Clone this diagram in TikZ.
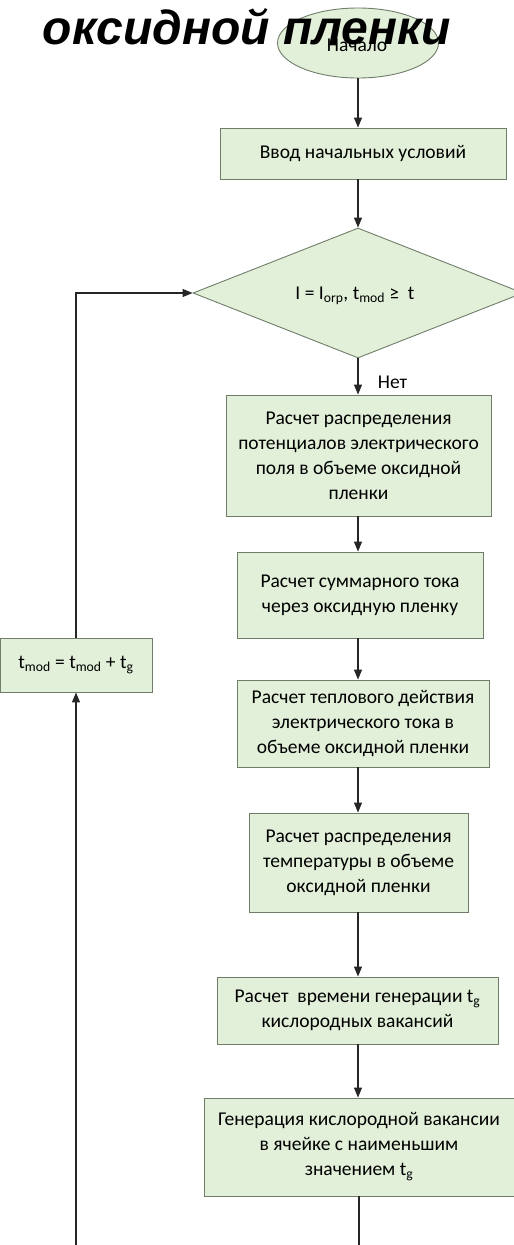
\documentclass[tikz,border=0pt]{standalone}
\usepackage{fontspec}
\setmainfont{Carlito}
\newfontfamily\titlefont{Liberation Sans}
\usetikzlibrary{arrows.meta,shapes.geometric}
\definecolor{boxfill}{HTML}{E2EFD9}
\definecolor{boxline}{HTML}{6F7D69}
\tikzset{
  blockbox/.style={draw=boxline, fill=boxfill, line width=0.9pt, align=center, inner sep=0pt},
  termbox/.style={ellipse, draw=boxline, fill=boxfill, line width=0.9pt, inner sep=0pt},
  condbox/.style={diamond, draw=boxline, fill=boxfill, line width=0.9pt, inner sep=0pt},
  arr/.style={-{Triangle[length=10pt, width=8pt]}, line width=1.1pt, draw=black!85},
  seg/.style={line width=1.1pt, draw=black!85}
}
\begin{document}
\begin{tikzpicture}[x=1pt, y=-1pt, font=\fontsize{19.5}{25}\selectfont]
  \useasboundingbox (0, 0) rectangle (514, 1245);

  \node[termbox, minimum width=161, minimum height=70] (start) at (358, 43) {};
  \node at (357, 45) {Начало};
  \node[blockbox, minimum width=286, minimum height=51] (input) at (363, 153.5) {Ввод начальных условий};
  \node[condbox, minimum width=330, minimum height=130] (cond) at (358, 293) {};
  \node at (355, 296) {I = I\textsubscript{orp}, t\textsubscript{mod} ≥\ \ t};
  \node[blockbox, minimum width=265, minimum height=121] (potent) at (358.5, 455.5)
    {Расчет распределения\\потенциалов электрического\\поля в объеме оксидной\\пленки};
  \node[blockbox, minimum width=246, minimum height=86] (current) at (360, 595)
    {Расчет суммарного тока\\через оксидную пленку};
  \node[blockbox, minimum width=252, minimum height=87] (heat) at (363, 723.5)
    {Расчет теплового действия\\электрического тока в\\объеме оксидной пленки};
  \node[blockbox, minimum width=219, minimum height=99] (temper) at (358.5, 862.5)
    {Расчет распределения\\температуры в объеме\\оксидной пленки};
  \node[blockbox, minimum width=281, minimum height=67] (tgen) at (357.5, 1010.5)
    {Расчет\ \ времени генерации t\textsubscript{g}\\кислородных вакансий};
  \node[blockbox, minimum width=310, minimum height=98] (vacancy) at (359, 1147)
    {Генерация кислородной вакансии\\в ячейке с наименьшим\\значением t\textsubscript{g}};
  \node[blockbox, minimum width=152, minimum height=54] (update) at (76, 665)
    {t\textsubscript{mod} = t\textsubscript{mod} + t\textsubscript{g}};

  % main flow
  \draw[arr] (start.south) -- (start.south |- input.north);
  \draw[arr] (cond.north |- input.south) -- (cond.north);
  \draw[arr] (cond.south) -- (cond.south |- potent.north) node[pos=0.65, right=16pt] {Нет};
  \draw[arr] (cond.south |- potent.south) -- (cond.south |- current.north);
  \draw[arr] (cond.south |- current.south) -- (cond.south |- heat.north);
  \draw[arr] (cond.south |- heat.south) -- (cond.south |- temper.north);
  \draw[arr] (cond.south |- temper.south) -- (cond.south |- tgen.north);
  \draw[arr] (cond.south |- tgen.south) -- (cond.south |- vacancy.north);

  % loop back
  \coordinate (downR) at (359, 1245);
  \coordinate (downL) at (76, 1245);
  \draw[seg] (vacancy.south) -- (downR);
  \draw[arr] (downL) -- (update.south);
  \draw[arr] (update.north) |- (cond.west);

  \node[font=\titlefont\fontsize{48}{50}\selectfont\bfseries\itshape, anchor=base] (title) at (247, 44) {оксидной пленки};
\end{tikzpicture}
\end{document}
